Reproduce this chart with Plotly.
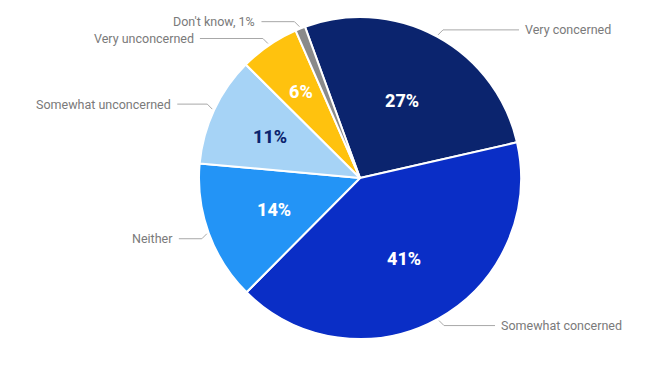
import math
import plotly.graph_objects as go

# ---- data ----
categories = ["Very concerned", "Somewhat concerned", "Neither",
              "Somewhat unconcerned", "Very unconcerned", "Don't know"]
values = [27, 41, 14, 11, 6, 1]
outside_labels = ["Very concerned", "Somewhat concerned", "Neither",
                  "Somewhat unconcerned", "Very unconcerned", "Don't know, 1%"]
inside_labels = ["27%", "41%", "14%", "11%", "6%", ""]

# ---- style ----
colors = ["#0B246E", "#0A2EC6", "#2394F6", "#A6D3F6", "#FFC20E", "#8A8A8A"]
text_colors = ["white", "white", "white", "#0B246E", "white", "white"]
leader_len = [76, 51, 23, 30, 63, 33]
inside_r = [0.55, 0.57, 0.57, 0.615, 0.65, 0.6]

W, H = 670, 369
CX, CY, R = 360, 178, 161
ROTATION = -20

fig = go.Figure(go.Pie(
    labels=categories, values=values,
    textinfo="none",
    sort=False, direction="clockwise", rotation=ROTATION,
    marker=dict(colors=colors, line=dict(color="white", width=2)),
    hoverinfo="label+percent",
    domain=dict(x=[(CX - R) / W, (CX + R) / W], y=[(H - CY - R) / H, (H - CY + R) / H]),
    showlegend=False,
))

def px(x):
    return x / W

def py(y):
    return 1 - y / H

total = sum(values)
start = ROTATION
shapes, annotations = [], []
for lab, txt, tc, rr, v, L in zip(outside_labels, inside_labels, text_colors,
                                  inside_r, values, leader_len):
    mid = math.radians(start + 360 * v / total / 2)
    start += 360 * v / total
    s, c = math.sin(mid), math.cos(mid)
    # leader line + outside label
    ex, ey = CX + (R + 2) * s, CY - (R + 2) * c
    sx = 1 if s >= 0 else -1
    sy = -1 if c >= 0 else 1
    bx, by = ex + sx * 5, ey + sy * 5
    lx = bx + sx * L
    shapes.append(dict(type="path", xref="paper", yref="paper",
                       path=f"M {px(ex)} {py(ey)} L {px(bx)} {py(by)} L {px(lx)} {py(by)}",
                       line=dict(color="#A8A8A8", width=1)))
    annotations.append(dict(x=px(lx + sx * 4), y=py(by), xref="paper", yref="paper",
                            text=lab, showarrow=False,
                            xanchor="left" if sx > 0 else "right", yanchor="middle",
                            font=dict(family="Roboto", size=12.5, color="#7A7A7A")))
    # percentage inside slice
    if txt:
        annotations.append(dict(x=px(CX + rr * R * s), y=py(CY - rr * R * c),
                                xref="paper", yref="paper", text=txt, showarrow=False,
                                xanchor="center", yanchor="middle",
                                font=dict(family="Roboto", size=18, color=tc, weight=800)))

fig.update_layout(width=W, height=H, margin=dict(l=0, r=0, t=0, b=0),
                  paper_bgcolor="white", plot_bgcolor="white",
                  shapes=shapes, annotations=annotations)
fig.write_html("out.html", config={"displayModeBar": False},
               post_script="document.body.style.margin='0px';")
